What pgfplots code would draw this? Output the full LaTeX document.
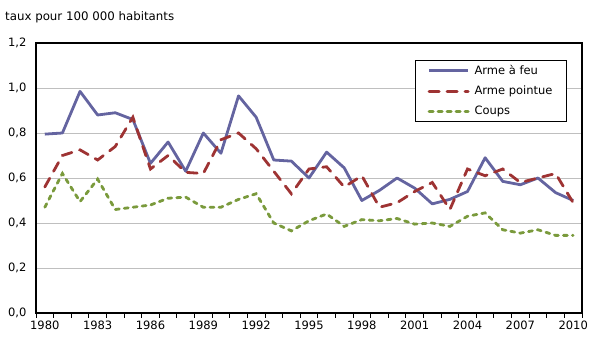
\documentclass[border=0pt]{standalone}
\usepackage{pgfplots}
\pgfplotsset{compat=1.18}
\usepackage{fontspec}
\setmainfont{DejaVu Sans}
\definecolor{cfeu}{HTML}{6464A0}
\definecolor{cpoint}{HTML}{9E3333}
\definecolor{ccoups}{HTML}{7A9A3C}
\begin{document}
\begin{tikzpicture}
\path[use as bounding box] (-36pt,-36pt) rectangle (554pt,313pt);
\node[anchor=west,inner sep=0pt,font=\fontsize{11.8}{13}\selectfont] at (-31pt,296pt) {taux pour 100 000 habitants};
\begin{axis}[
  at={(0pt,0pt)}, anchor=south west,
  scale only axis, width=546pt, height=270pt,
  xmin=1979.5, xmax=2010.5, ymin=0, ymax=1.2,
  xtick={1980,1983,...,2010},
  minor xtick={1979.5,1980.5,...,2010.5},
  ytick={0,0.2,...,1.21},
  tick pos=left, tick align=outside,
  major tick length=0pt, minor tick length=4.5pt,
  ytick style={draw=none},
  minor tick style={black, line width=0.9pt},
  ymajorgrids, grid style={color=black!25, line width=0.8pt},
  axis line style={black, line width=1.1pt},
  ticklabel style={font=\fontsize{11.5}{13}\selectfont},
  xticklabel style={yshift=-4pt},
  yticklabel style={xshift=-6pt},
  /pgf/number format/assume math mode=true,
  xticklabel={\pgfmathprintnumber[1000 sep={},fixed,precision=0]{\tick}},
  yticklabel={\pgfmathprintnumber[fixed,fixed zerofill,precision=1,use comma]{\tick}},
  legend style={at={(0.9725,0.937)}, anchor=north east, draw=black, line width=0.9pt,
    font=\fontsize{11.5}{13}\selectfont, row sep=6pt, column sep=3pt,
    inner xsep=12pt, inner ysep=3pt, nodes={inner sep=2pt}},
  legend cell align=left,
  legend image code/.code={\draw[#1] (0pt,0pt) -- (39pt,0pt);},
]
\addplot[cfeu, line width=2.8pt, line join=round] coordinates {
(1980,0.795) (1981,0.80) (1982,0.985) (1983,0.88) (1984,0.89) (1985,0.86)
(1986,0.665) (1987,0.76) (1988,0.63) (1989,0.80) (1990,0.71) (1991,0.965)
(1992,0.87) (1993,0.68) (1994,0.675) (1995,0.60) (1996,0.715) (1997,0.645)
(1998,0.50) (1999,0.545) (2000,0.60) (2001,0.555) (2002,0.485) (2003,0.505)
(2004,0.54) (2005,0.69) (2006,0.585) (2007,0.57) (2008,0.60) (2009,0.535) (2010,0.50)};
\addlegendentry{Arme à feu}
\addplot[cpoint, line width=2.8pt, dash pattern=on 10pt off 8pt, line cap=round] coordinates {
(1980,0.56) (1981,0.70) (1982,0.725) (1983,0.68) (1984,0.74) (1985,0.87)
(1986,0.64) (1987,0.70) (1988,0.625) (1989,0.62) (1990,0.77) (1991,0.80)
(1992,0.73) (1993,0.63) (1994,0.53) (1995,0.64) (1996,0.65) (1997,0.56)
(1998,0.61) (1999,0.47) (2000,0.49) (2001,0.54) (2002,0.58) (2003,0.46)
(2004,0.64) (2005,0.61) (2006,0.64) (2007,0.58) (2008,0.60) (2009,0.62) (2010,0.49)};
\addlegendentry{Arme pointue}
\addplot[ccoups, line width=2.8pt, dash pattern=on 4pt off 5pt, line cap=round] coordinates {
(1980,0.47) (1981,0.62) (1982,0.495) (1983,0.595) (1984,0.46) (1985,0.47)
(1986,0.48) (1987,0.51) (1988,0.515) (1989,0.47) (1990,0.47) (1991,0.505)
(1992,0.53) (1993,0.40) (1994,0.365) (1995,0.41) (1996,0.44) (1997,0.385)
(1998,0.415) (1999,0.41) (2000,0.42) (2001,0.395) (2002,0.40) (2003,0.385)
(2004,0.43) (2005,0.445) (2006,0.37) (2007,0.355) (2008,0.37) (2009,0.345) (2010,0.345)};
\addlegendentry{Coups}
\end{axis}
\end{tikzpicture}
\end{document}
